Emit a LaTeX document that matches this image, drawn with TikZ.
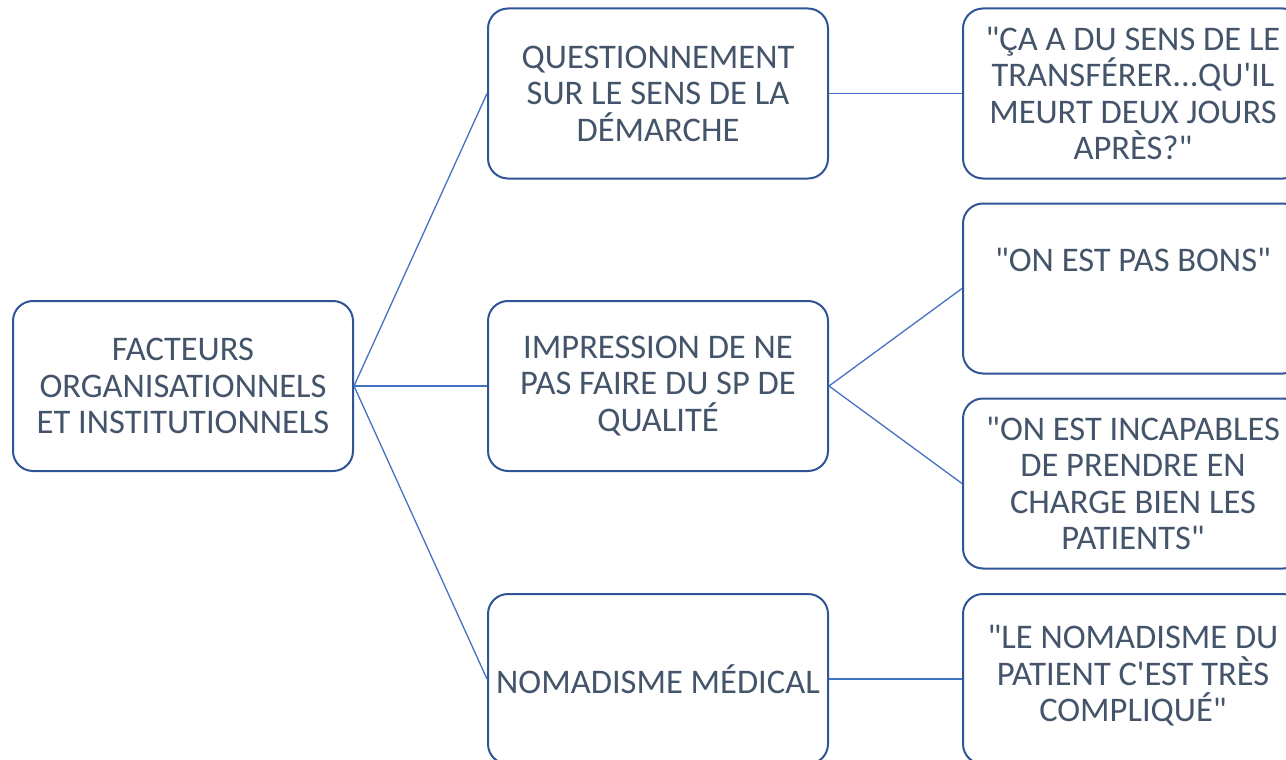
\documentclass[tikz,border=0pt]{standalone}
\usepackage{fontspec}
\setmainfont{Carlito}[Ligatures=TeXOff]
\definecolor{txt}{HTML}{44546A}
\definecolor{bord}{HTML}{2F5597}
\definecolor{conn}{HTML}{4472C4}
\begin{document}
\begin{tikzpicture}[x=1pt,y=-1pt,
  box/.style={draw=bord,line width=2pt,rounded corners=20pt,minimum width=340pt,minimum height=170pt,inner sep=0pt,fill=white},
  lbl/.style={text=txt,align=center,font=\fontsize{34.5}{36.5}\selectfont,inner sep=0pt},
  link/.style={draw=conn,line width=1.3pt}]
\useasboundingbox (0,0) rectangle (1286,760);
\clip (0,0) rectangle (1286,760);
% boxes
\node[box] (root) at (183,386) {};
\node[box] (m1) at (658,93.5) {};
\node[box] (m2) at (658,386) {};
\node[box] (m3) at (658,679) {};
\node[box] (r1) at (1133,93.5) {};
\node[box] (r2) at (1133,288.5) {};
\node[box] (r3) at (1133,483.5) {};
\node[box] (r4) at (1133,679) {};
% connectors
\draw[link] (root.east) -- (m1.west);
\draw[link] (root.east) -- (m2.west);
\draw[link] (root.east) -- (m3.west);
\draw[link] (m1.east) -- (r1.west);
\draw[link] (m2.east) -- (r2.west);
\draw[link] (m2.east) -- (r3.west);
\draw[link] (m3.east) -- (r4.west);
% texts
\node[lbl] (troot) at (root.center) {FACTEURS\\ORGANISATIONNELS\\ET INSTITUTIONNELS};
\node[lbl] (tm1) at (m1.center) {QUESTIONNEMENT\\SUR LE SENS DE LA\\DÉMARCHE};
\node[lbl] (tm2) at (m2.center) {IMPRESSION DE NE\\PAS FAIRE DU SP DE\\QUALITÉ};
\node[lbl] (tm3) at (m3.center) {NOMADISME MÉDICAL};
\node[lbl] (tr1) at (r1.center) {"ÇA A DU SENS DE LE\\TRANSFÉRER...QU'IL\\MEURT DEUX JOURS\\APRÈS?"};
\node[lbl] (tr2) at ([yshift=28.5pt]r2.center) {"ON EST PAS BONS"};
\node[lbl] (tr3) at (r3.center) {"ON EST INCAPABLES\\DE PRENDRE EN\\CHARGE BIEN LES\\PATIENTS"};
\node[lbl] (tr4) at ([yshift=3pt]r4.center) {"LE NOMADISME DU\\PATIENT C'EST TRÈS\\COMPLIQUÉ"};
\end{tikzpicture}
\end{document}
